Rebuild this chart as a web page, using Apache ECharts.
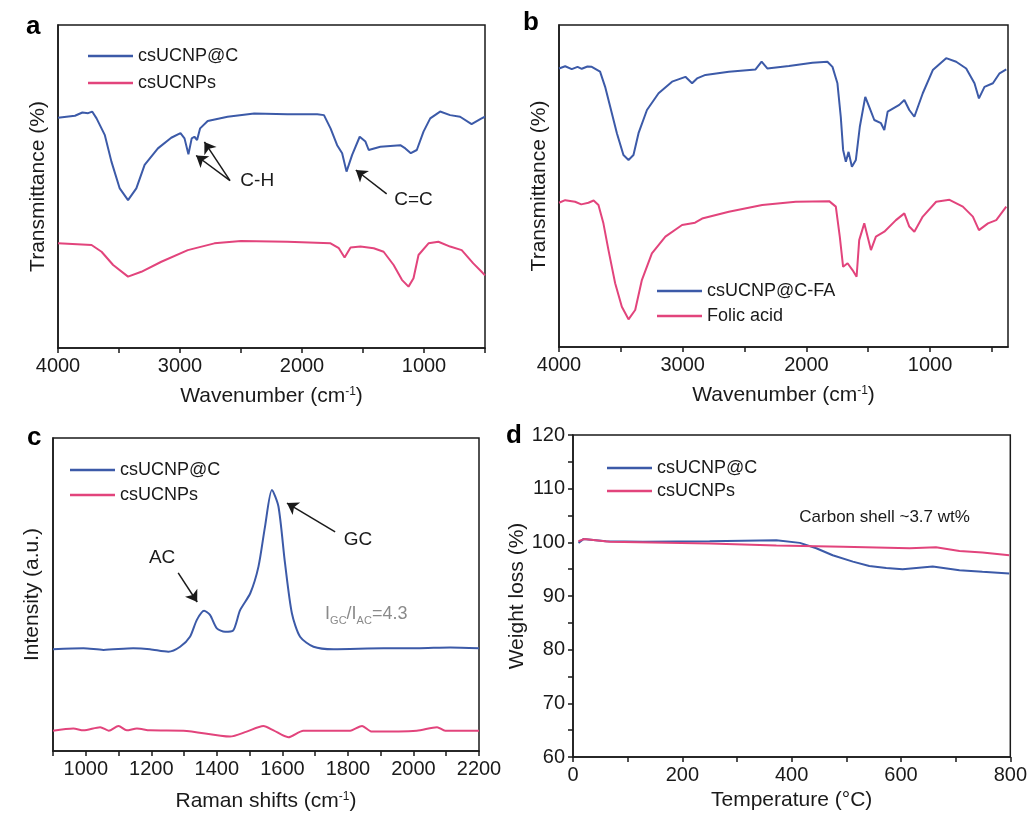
<!DOCTYPE html>
<html>
<head>
<meta charset="UTF-8">
<title>csUCNP@C characterisation</title>
<script src="https://cdn.jsdelivr.net/npm/echarts@6/dist/echarts.min.js"></script>
<style>
  html, body { margin: 0; padding: 0; background: #fff; }
  #main { width: 1030px; height: 816px; }
</style>
</head>
<body>
<div id="main"></div>
<script>
// ---- data: [x, y] pairs ----
// a: FTIR, wavenumber (cm-1) vs transmittance (arb.)
var ftirA_csUCNPC = [[4000,71.3],[3861,71.9],[3800,72.9],[3753,72.7],[3720,73.2],[3684,71.1],[3616,65.9],[3562,57.7],[3494,49.4],[3426,45.8],[3358,49.4],[3290,56.7],[3181,61.8],[3072,65.1],[2996,66.5],[2963,64.9],[2931,60.0],[2904,64.9],[2882,65.4],[2860,64.4],[2835,68.0],[2773,70.3],[2610,71.6],[2392,72.6],[2120,72.4],[1875,72.4],[1820,72.1],[1766,68.0],[1712,62.8],[1671,60.3],[1635,54.6],[1589,59.8],[1527,65.4],[1480,63.9],[1453,61.3],[1358,62.3],[1194,62.8],[1153,61.8],[1108,60.3],[1059,61.3],[1004,67.0],[949,71.1],[868,73.2],[786,72.1],[704,71.6],[610,69.3],[528,71.1],[500,71.6]];
var ftirA_csUCNPs = [[4000,32.4],[3725,31.9],[3643,29.8],[3548,25.7],[3426,22.1],[3317,23.6],[3153,26.7],[2936,30.3],[2718,32.4],[2500,33.1],[2120,32.9],[1766,32.4],[1698,30.9],[1651,28.0],[1602,31.1],[1521,31.4],[1412,30.9],[1331,29.8],[1249,25.7],[1181,21.1],[1127,19.0],[1086,21.6],[1045,28.8],[963,32.4],[882,32.9],[786,31.4],[691,30.3],[596,26.2],[528,23.6],[500,22.5]];
// b: FTIR after folic acid grafting
var ftirB_csUCNPCFA = [[4000,86.5],[3950,87.2],[3897,86.3],[3850,87.0],[3816,86.4],[3770,87.1],[3735,87.0],[3668,85.5],[3627,80.8],[3586,74.6],[3532,66.4],[3479,59.6],[3438,58.1],[3398,59.6],[3357,66.4],[3289,73.6],[3195,78.8],[3086,82.4],[2978,83.9],[2924,81.9],[2884,83.4],[2816,84.5],[2627,85.5],[2411,86.2],[2362,88.6],[2316,86.5],[2141,87.3],[1951,88.3],[1830,88.6],[1789,87.0],[1749,81.9],[1722,71.5],[1703,61.2],[1681,57.5],[1659,60.6],[1632,56.0],[1600,58.1],[1568,68.4],[1524,77.7],[1492,74.6],[1451,70.5],[1397,69.5],[1370,67.4],[1343,73.1],[1249,75.2],[1208,76.7],[1168,73.6],[1127,71.5],[1059,78.8],[978,86.0],[870,89.7],[789,88.6],[708,86.5],[641,81.9],[605,77.2],[560,80.8],[492,81.9],[438,85.0],[384,86.2]];
var ftirB_folicAcid = [[4000,44.8],[3950,45.6],[3870,45.1],[3820,44.3],[3762,44.8],[3720,45.5],[3681,44.1],[3641,38.4],[3600,30.1],[3546,19.8],[3492,12.5],[3438,8.6],[3384,11.5],[3330,20.8],[3249,29.1],[3140,34.3],[3005,37.9],[2900,38.6],[2843,39.9],[2627,42.0],[2357,44.1],[2086,45.1],[1816,45.3],[1762,43.6],[1730,34.3],[1703,24.9],[1667,26.0],[1627,23.9],[1594,21.8],[1573,33.2],[1532,38.4],[1478,30.1],[1438,34.3],[1370,35.8],[1276,39.4],[1208,41.5],[1168,37.4],[1127,35.8],[1059,40.5],[951,45.1],[843,45.7],[735,43.6],[654,40.5],[605,36.3],[532,38.4],[465,39.4],[384,43.6]];
// c: Raman, shift (cm-1) vs intensity (a.u.)
var raman_csUCNPC = [[900,32.5],[993,32.8],[1054,32.3],[1145,32.8],[1196,32.5],[1252,31.7],[1288,33.3],[1318,36.5],[1339,41.9],[1361,44.8],[1379,43.5],[1400,39.2],[1425,38.1],[1449,38.4],[1471,45.0],[1502,50.4],[1527,58.9],[1547,71.7],[1568,83.4],[1588,78.1],[1608,60.0],[1629,44.0],[1654,36.5],[1695,33.3],[1756,32.5],[1909,32.8],[2011,32.8],[2112,33.1],[2200,32.8]];
var raman_csUCNPs = [[900,6.5],[962,7.2],[993,6.6],[1044,7.6],[1070,6.5],[1100,8.0],[1125,6.6],[1156,7.2],[1196,6.6],[1298,6.5],[1440,4.6],[1491,6.2],[1542,8.0],[1573,6.6],[1618,4.4],[1664,6.5],[1807,6.5],[1843,8.0],[1873,6.2],[2010,6.5],[2072,7.6],[2097,6.5],[2200,6.5]];
// d: TGA, temperature (°C) vs weight (%)
var tga_csUCNPC = [[10,99.9],[19,100.6],[60,100.2],[128,100.1],[250,100.2],[372,100.4],[415,99.9],[445,98.9],[475,97.6],[512,96.4],[542,95.6],[573,95.2],[603,95.0],[658,95.5],[707,94.8],[749,94.5],[798,94.2]];
var tga_csUCNPs = [[10,100.2],[20,100.6],[67,100.1],[250,99.8],[372,99.4],[494,99.2],[616,98.9],[664,99.1],[707,98.4],[749,98.1],[798,97.6]];

// tick positions
var ftirTicks = [500, 1000, 1500, 2000, 2500, 3000, 3500, 4000];
var ftirLabels = [1000, 2000, 3000, 4000];

var FONT = 'Arial, "Liberation Sans", sans-serif';
var BLUE = '#3c5aa8';
var PINK = '#e2447c';
var INK = '#1a1a1a';

var superName = function (txt) {
	return '{n|' + txt + ' (cm}{s|-1}{n|)}';
};
var superRich = {
	n: { fontSize: 21, fontFamily: FONT, color: INK },
	s: { fontSize: 12, fontFamily: FONT, color: INK, verticalAlign: 'top' }
};

// plain numbers, no thousands separator
var plain = function (v) { return String(v); };

// shared axis look
function baseAxis(extra) {
	var ax = {
		type: 'value',
		axisLine: { show: true, lineStyle: { color: INK, width: 1.5 } },
		axisTick: { show: true, inside: false, length: 5, lineStyle: { color: INK, width: 1.5 } },
		axisLabel: { color: INK, fontSize: 20, fontFamily: FONT, margin: 8, formatter: plain },
		splitLine: { show: false },
		nameLocation: 'middle',
		nameTextStyle: { color: INK, fontSize: 21, fontFamily: FONT }
	};
	for (var k in extra) {
		if (typeof extra[k] === 'object' && ax[k] && !Array.isArray(extra[k])) {
			ax[k] = Object.assign({}, ax[k], extra[k]);
		} else {
			ax[k] = extra[k];
		}
	}
	return ax;
}

function hiddenY(grid, name, gap) {
	return baseAxis({
		gridIndex: grid, min: 0, max: 100,
		axisTick: { show: false }, axisLabel: { show: false },
		name: name, nameGap: gap
	});
}

function arrows(pairs) {
	return {
		silent: true,
		animation: false,
		symbol: ['none', 'arrow'],
		symbolSize: 11,
		lineStyle: { color: INK, width: 1.5, type: 'solid' },
		label: { show: false },
		data: pairs.map(function (p) { return [{ coord: p[0] }, { coord: p[1] }]; })
	};
}

function notes(items, size, color) {
	return {
		silent: true,
		animation: false,
		symbol: 'circle',
		symbolSize: 0,
		label: { show: true, position: 'inside', color: color || INK, fontSize: size, fontFamily: FONT },
		data: items.map(function (it) {
			return { coord: it.at, value: 0, label: { formatter: it.text, rich: it.rich } };
		})
	};
}

function line(name, data, color, xi, extra) {
	var s = {
		name: name, type: 'line', xAxisIndex: xi, yAxisIndex: xi,
		data: data, symbol: 'none', smooth: false,
		lineStyle: { color: color, width: 2 }, itemStyle: { color: color },
		emphasis: { disabled: true }
	};
	return Object.assign(s, extra || {});
}

function legendAt(left, top, gap, names) {
	return {
		left: left, top: top, orient: 'vertical', selectedMode: false, padding: 0,
		icon: 'rect', itemWidth: 45, itemHeight: 2.5, itemGap: gap,
		textStyle: { color: INK, fontSize: 18, fontFamily: FONT, lineHeight: 18 },
		data: names
	};
}

var chart = echarts.init(document.getElementById('main'));

var gridBox = { show: true, borderColor: INK, borderWidth: 1.5, backgroundColor: 'transparent' };

var option = {
	backgroundColor: '#fff',
	animation: false,
	grid: [
		Object.assign({ left: 58, top: 25, width: 427, height: 323 }, gridBox),
		Object.assign({ left: 559, top: 25, width: 449, height: 322 }, gridBox),
		Object.assign({ left: 53, top: 438, width: 426, height: 313 }, gridBox),
		Object.assign({ left: 573, top: 435, width: 438, height: 322 }, gridBox)
	],
	legend: [
		legendAt(88, 47, 9, ['csUCNP@C', 'csUCNPs']),
		legendAt(657, 282, 7, ['csUCNP@C-FA', 'Folic acid']),
		legendAt(70, 461, 7, ['csUCNP@C', 'csUCNPs']),
		legendAt(607, 459, 5, ['csUCNP@C', 'csUCNPs'])
	],
	xAxis: [
		baseAxis({
			gridIndex: 0, inverse: true, min: 500, max: 4000,
			axisTick: { customValues: ftirTicks },
			axisLabel: { customValues: ftirLabels },
			name: superName('Wavenumber'), nameGap: 38, nameTextStyle: { rich: superRich }
		}),
		baseAxis({
			gridIndex: 1, inverse: true, min: 370, max: 4000,
			axisTick: { customValues: ftirTicks },
			axisLabel: { customValues: ftirLabels },
			name: superName('Wavenumber'), nameGap: 38, nameTextStyle: { rich: superRich }
		}),
		baseAxis({
			gridIndex: 2, min: 900, max: 2200, interval: 100,
			axisLabel: { formatter: function (v) { return v % 200 === 0 ? String(v) : ''; } },
			name: superName('Raman shifts'), nameGap: 40, nameTextStyle: { rich: superRich }
		}),
		baseAxis({
			gridIndex: 3, min: 0, max: 800, interval: 100,
			axisLabel: { formatter: function (v) { return v % 200 === 0 ? String(v) : ''; } },
			name: 'Temperature (°C)', nameGap: 33
		})
	],
	yAxis: [
		hiddenY(0, 'Transmittance (%)', 9),
		hiddenY(1, 'Transmittance (%)', 9),
		hiddenY(2, 'Intensity (a.u.)', 10),
		baseAxis({
			gridIndex: 3, min: 60, max: 120, interval: 5,
			axisLabel: { formatter: function (v) { return v % 10 === 0 ? String(v) : ''; } },
			name: 'Weight loss (%)', nameGap: 38
		})
	],
	series: [
		line('csUCNP@C', ftirA_csUCNPC, BLUE, 0, {
			markLine: arrows([
				[[2590, 51.8], [2868, 59.6]],
				[[2590, 51.8], [2800, 63.8]],
				[[1306, 47.7], [1559, 55.1]]
			]),
			markPoint: notes([
				{ at: [2367, 51.7], text: 'C-H' },
				{ at: [1086, 45.8], text: 'C=C' }
			], 19)
		}),
		line('csUCNPs', ftirA_csUCNPs, PINK, 0),
		line('csUCNP@C-FA', ftirB_csUCNPCFA, BLUE, 1),
		line('Folic acid', ftirB_folicAcid, PINK, 1),
		line('csUCNP@C', raman_csUCNPC, BLUE, 2, {
			smooth: 0.25,
			markLine: arrows([
				[[1282, 56.9], [1340, 47.6]],
				[[1761, 70.0], [1614, 79.2]]
			]),
			markPoint: notes([
				{ at: [1233, 61.7], text: 'AC' },
				{ at: [1831, 67.4], text: 'GC' },
				{
					at: [1856, 43.5],
					text: '{a|I}{b|GC}{a|/I}{b|AC}{a|=4.3}',
					rich: {
						a: { fontSize: 18, fontFamily: FONT, color: '#8a8a8a', verticalAlign: 'top', lineHeight: 20 },
						b: { fontSize: 11, fontFamily: FONT, color: '#8a8a8a', verticalAlign: 'top', lineHeight: 12, padding: [11, 0, 0, 0] }
					}
				}
			], 19)
		}),
		line('csUCNPs', raman_csUCNPs, PINK, 2, { smooth: 0.25 }),
		line('csUCNP@C', tga_csUCNPC, BLUE, 3, {
			markPoint: notes([
				{ at: [570, 104.7], text: 'Carbon shell ~3.7 wt%' }
			], 17)
		}),
		line('csUCNPs', tga_csUCNPs, PINK, 3)
	],
	graphic: [
		{ type: 'text', left: 26, top: 14, style: { text: 'a', font: 'bold 26px ' + FONT, fill: '#000' } },
		{ type: 'text', left: 523, top: 10, style: { text: 'b', font: 'bold 26px ' + FONT, fill: '#000' } },
		{ type: 'text', left: 27, top: 425, style: { text: 'c', font: 'bold 26px ' + FONT, fill: '#000' } },
		{ type: 'text', left: 506, top: 423, style: { text: 'd', font: 'bold 26px ' + FONT, fill: '#000' } }
	]
};

chart.setOption(option);
</script>
</body>
</html>
